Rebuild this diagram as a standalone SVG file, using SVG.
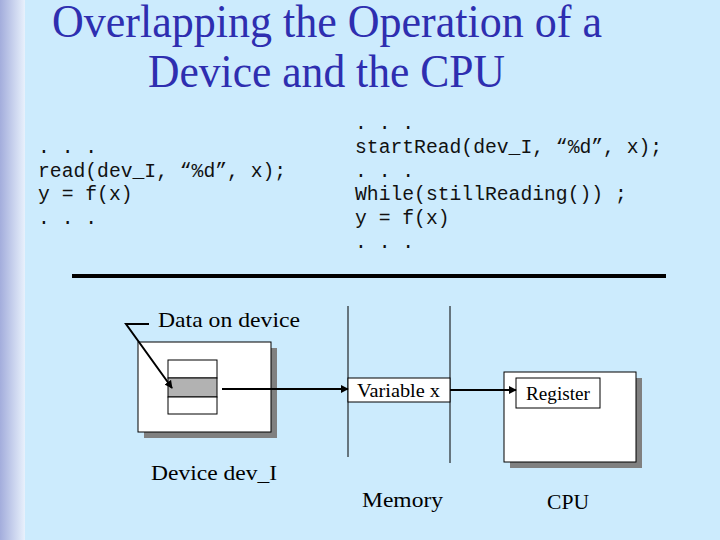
<svg xmlns="http://www.w3.org/2000/svg" width="720" height="540" viewBox="0 0 720 540">
<defs>
<linearGradient id="edge" x1="0" y1="0" x2="1" y2="0">
<stop offset="0" stop-color="#A3ADDC"/>
<stop offset="1" stop-color="#E8F1FC"/>
</linearGradient>
<marker id="ah" viewBox="0 0 10 10" refX="9" refY="5" markerWidth="4" markerHeight="4" orient="auto" markerUnits="strokeWidth">
<path d="M0,0 L10,5 L0,10 z" fill="#000"/>
</marker>
<style>
.title{font-family:"Liberation Serif","Times New Roman",serif;font-size:47px;fill:#2E2EB0}
.code{font-family:"Liberation Mono","Courier New",monospace;font-size:19.7px;fill:#111}
.lbl{font-family:"Liberation Serif","Times New Roman",serif;fill:#000}
.box{fill:#fff;stroke:#000;stroke-width:1}
.shadow{fill:#808080}
.conn{stroke:#000;stroke-width:2;fill:none}
.thin{stroke:#000;stroke-width:1;fill:none}
</style>
</defs>
<rect x="0" y="0" width="720" height="540" fill="#CCEBFD"/>
<rect x="0" y="0" width="25" height="540" fill="url(#edge)"/>

<g id="title">
<text class="title" x="52" y="37" textLength="550" lengthAdjust="spacingAndGlyphs">Overlapping the Operation of a</text>
<text class="title" x="148" y="87" textLength="357" lengthAdjust="spacingAndGlyphs">Device and the CPU</text>
</g>

<g id="code-left">
<text class="code" x="38" y="153">. . .</text>
<text class="code" x="38" y="177">read(dev_I, “%d”, x);</text>
<text class="code" x="38" y="200">y = f(x)</text>
<text class="code" x="38" y="224">. . .</text>
</g>

<g id="code-right">
<text class="code" x="355" y="129">. . .</text>
<text class="code" x="355" y="153">startRead(dev_I, “%d”, x);</text>
<text class="code" x="355" y="177">. . .</text>
<text class="code" x="355" y="200">While(stillReading()) ;</text>
<text class="code" x="355" y="224">y = f(x)</text>
<text class="code" x="355" y="248">. . .</text>
</g>

<rect id="divider" x="72" y="274" width="594" height="4" fill="#000"/>

<g id="device">
<rect class="shadow" x="144" y="348" width="133" height="90"/>
<rect class="box" x="138" y="342" width="133" height="90"/>
<rect class="box" x="168" y="360" width="49" height="18"/>
<rect x="168" y="378" width="49" height="19" fill="#B2B2B2" stroke="#000" stroke-width="1"/>
<rect class="box" x="168" y="397" width="49" height="17"/>
<text class="lbl" x="151" y="480" font-size="22" textLength="126" lengthAdjust="spacingAndGlyphs">Device dev_I</text>
</g>

<g id="data-label">
<text class="lbl" x="158" y="327" font-size="22" textLength="142" lengthAdjust="spacingAndGlyphs">Data on device</text>
</g>

<g id="memory">
<line class="thin" x1="348" y1="306" x2="348" y2="457"/>
<line class="thin" x1="450" y1="306" x2="450" y2="463"/>
<rect class="box" x="348" y="378" width="102" height="24"/>
<text class="lbl" x="357" y="397" font-size="18" textLength="83" lengthAdjust="spacingAndGlyphs">Variable x</text>
<text class="lbl" x="362" y="507" font-size="22" textLength="81" lengthAdjust="spacingAndGlyphs">Memory</text>
</g>

<g id="cpu">
<rect class="shadow" x="510" y="378" width="132" height="90"/>
<rect class="box" x="504" y="372" width="132" height="90"/>
<rect class="box" x="516" y="378" width="84" height="30"/>
<text class="lbl" x="526" y="400" font-size="19" textLength="64" lengthAdjust="spacingAndGlyphs">Register</text>
<text class="lbl" x="547" y="509" font-size="22" textLength="42" lengthAdjust="spacingAndGlyphs">CPU</text>
</g>

<g id="connectors">
<polyline class="conn" points="149,324 126,324 172,388" marker-end="url(#ah)"/>
<line class="conn" x1="222" y1="389" x2="348" y2="389" marker-end="url(#ah)"/>
<line class="conn" x1="450" y1="390" x2="516" y2="390" marker-end="url(#ah)"/>
</g>
</svg>
